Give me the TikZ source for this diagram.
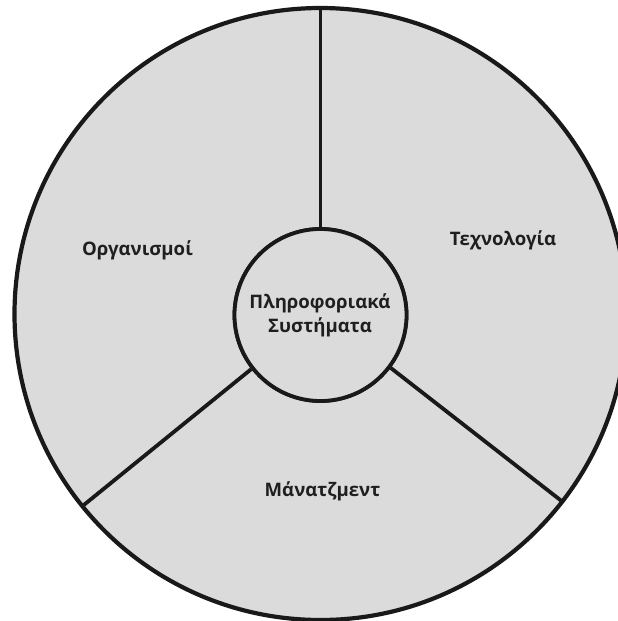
\documentclass[tikz,border=0pt]{standalone}
\usepackage{fontspec}
\setmainfont{Open Sans}
\usetikzlibrary{calc}
\begin{document}
\begin{tikzpicture}[x=1pt,y=-1pt,
  rim/.style={draw=black!90,line width=4.2pt},
  spoke/.style={draw=black!90,line width=3.8pt},
  hubstyle/.style={circle,draw=black!90,line width=3.8pt,fill=black!14,minimum size=172pt,inner sep=0pt},
  lbl/.style={font=\bfseries\fontsize{18.6}{24}\selectfont,text=black!88,align=center,inner sep=0pt}]
  \useasboundingbox (0,0) rectangle (618,621);
  \begin{scope}
    \clip (0,0) rectangle (618,621);
    % outer disc
    \coordinate (c) at (320.5,314);
    \fill[black!14] (c) circle (306);
    % rim points where the spokes meet the outer circle
    \coordinate (rt) at ($(c)+(-90:306)$);
    \coordinate (rl) at ($(c)+(141.1:306)$);
    \coordinate (rr) at ($(c)+(37.8:306)$);
    % central hub
    \node[hubstyle] (hub) at (320.5,315) {};
    % spokes
    \draw[spoke] (hub.90) -- (rt);
    \draw[spoke] (hub.218.9) -- (rl);
    \draw[spoke] (hub.-37.8) -- (rr);
    \draw[rim] (c) circle (306);
    \node[hubstyle] at (hub) {};
  \end{scope}
  % labels
  \node[lbl] (org) at (137.5,250) {Οργανισμοί};
  \node[lbl] (tech) at (503,240) {Τεχνολογία};
  \node[lbl] (mgmt) at (322.5,491) {Μάνατζμεντ};
  \node[lbl] (is) at (320,315) {Πληροφοριακά\\Συστήματα};
\end{tikzpicture}
\end{document}
